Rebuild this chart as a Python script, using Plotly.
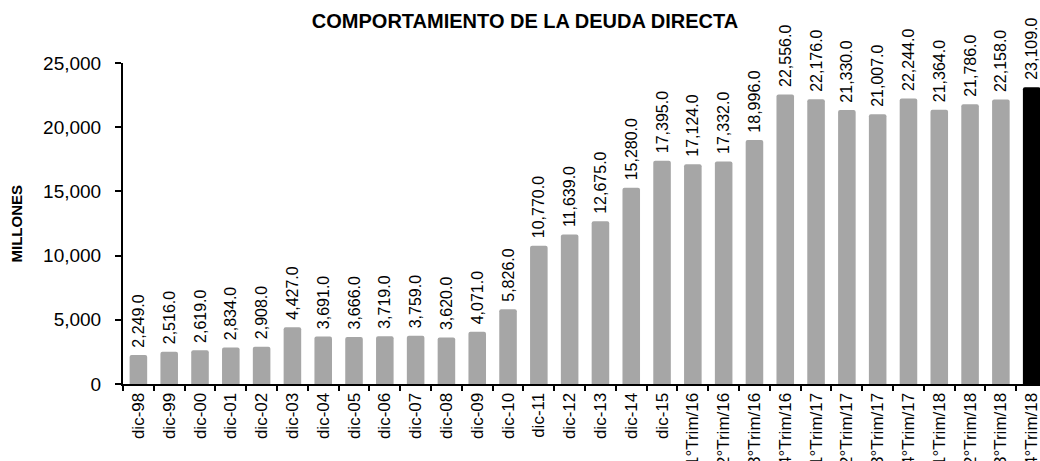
import plotly.graph_objects as go

categories = ["dic-98", "dic-99", "dic-00", "dic-01", "dic-02", "dic-03", "dic-04", "dic-05",
              "dic-06", "dic-07", "dic-08", "dic-09", "dic-10", "dic-11", "dic-12", "dic-13",
              "dic-14", "dic-15", "1°Trim/16", "2°Trim/16", "3°Trim/16", "4°Trim/16",
              "1°Trim/17", "2°Trim/17", "3°Trim/17", "4°Trim/17", "1°Trim/18", "2°Trim/18",
              "3°Trim/18", "4°Trim/18"]
values = [2249, 2516, 2619, 2834, 2908, 4427, 3691, 3666, 3719, 3759, 3620, 4071, 5826,
          10770, 11639, 12675, 15280, 17395, 17124, 17332, 18996, 22556, 22176, 21330,
          21007, 22244, 21364, 21786, 22158, 23109]
y_ticks = [0, 5000, 10000, 15000, 20000, 25000]

colors = ["#A6A6A6"] * (len(values) - 1) + ["#000000"]

FONT = "Liberation Sans, Arial, sans-serif"

fig = go.Figure(go.Bar(
    x=categories, y=values, width=0.57,
    marker=dict(color=colors, line=dict(width=0), cornerradius=2),
    texttemplate="\u00a0%{y:,.1f}", textposition="outside", textangle=-90,
    constraintext="none",
    textfont=dict(family=FONT, size=16, color="black"),
    cliponaxis=False,
))

fig.update_layout(
    width=1040, height=461,
    margin=dict(l=123, r=0, t=63, b=77, autoexpand=False),
    paper_bgcolor="white", plot_bgcolor="white",
    showlegend=False,
    font=dict(family=FONT, color="black"),
    title=dict(text="<b>COMPORTAMIENTO DE LA DEUDA DIRECTA</b>",
               font=dict(family=FONT, size=20, color="black"),
               x=525 / 1040, xanchor="center", xref="container",
               y=1 - 21 / 461, yanchor="middle", yref="container"),
    xaxis=dict(type="category", range=[-0.5, 29.27], tickangle=-90, automargin=False,
               tickson="boundaries", ticks="outside", ticklen=5, tickwidth=2,
               tickcolor="black", showline=True, linewidth=2, linecolor="black",
               showgrid=False, tickfont=dict(family=FONT, size=17, color="black")),
    yaxis=dict(range=[0, 25000], tickvals=y_ticks, tickformat=",", automargin=False,
               ticks="outside", ticklen=6, tickwidth=2, tickcolor="black",
               showline=True, linewidth=2, linecolor="black", showgrid=False,
               zeroline=False, ticklabelstandoff=10,
               tickfont=dict(family=FONT, size=19, color="black")),
)
plot_w = 1040 - 123
plot_h = 461 - 63 - 77
fig.add_annotation(text="<b>MILLONES</b>", textangle=-90,
                   x=(6 - 123) / plot_w, y=(461 - 77 - 224) / plot_h,
                   xref="paper", yref="paper", showarrow=False,
                   font=dict(family=FONT, size=15, color="black"))

fig.write_html("out.html",
               config={"displayModeBar": False},
               post_script="document.body.style.margin='0';"
                           "document.body.style.overflow='hidden';"
                           "document.documentElement.style.overflow='hidden';")
